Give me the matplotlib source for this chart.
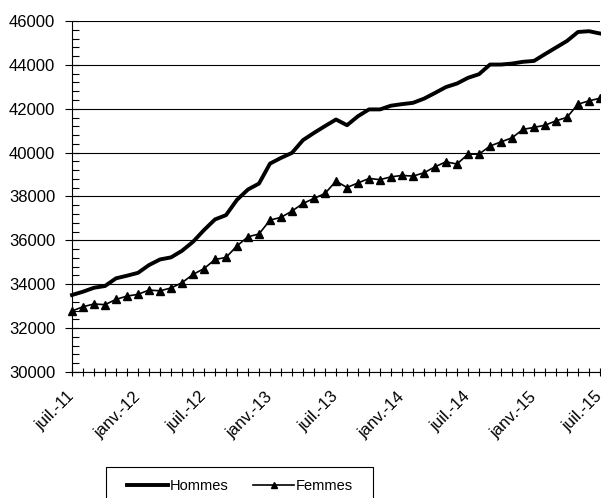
import matplotlib
matplotlib.use("Agg")
import matplotlib.pyplot as plt
from matplotlib.ticker import MultipleLocator
from matplotlib.patches import Rectangle

# données mensuelles, juil.-11 -> juil.-15
hommes = [33510, 33660, 33840, 33920, 34270, 34390, 34520, 34875, 35130, 35225,
          35525, 35935, 36470, 36955, 37150, 37850, 38320, 38590, 39500, 39760,
          39990, 40570, 40900, 41210, 41510, 41250, 41660, 41970, 41970, 42140,
          42210, 42270, 42460, 42720, 42990, 43150, 43410, 43575, 44015, 44015,
          44060, 44140, 44180, 44490, 44790, 45090, 45500, 45535, 45430]
femmes = [32780, 32975, 33100, 33070, 33310, 33460, 33540, 33735, 33700, 33830,
          34070, 34450, 34710, 35130, 35220, 35750, 36165, 36290, 36925, 37050,
          37335, 37685, 37910, 38140, 38700, 38410, 38620, 38820, 38770, 38895,
          38960, 38930, 39080, 39355, 39580, 39480, 39930, 39930, 40300, 40490,
          40675, 41060, 41150, 41250, 41450, 41610, 42210, 42360, 42480]
tick_labels = ["juil.-11", "janv.-12", "juil.-12", "janv.-13", "juil.-13",
               "janv.-14", "juil.-14", "janv.-15", "juil.-15"]

plt.rcParams["font.family"] = ["Liberation Sans", "DejaVu Sans"]

fig = plt.figure(figsize=(6.01, 4.98), dpi=100)
ax = fig.add_axes([72 / 601, 1 - 372 / 498, 528 / 601, 351 / 498])

x = list(range(len(hommes)))
ax.plot(x, hommes, color="black", lw=2.8, label="Hommes", clip_on=False,
        solid_joinstyle="round", zorder=3)
ax.plot(x, femmes, color="black", lw=1.2, marker="^", ms=6, label="Femmes",
        clip_on=False, zorder=3)

ax.set_xlim(0, 48)
ax.set_ylim(30000, 46000)
ax.yaxis.set_major_locator(MultipleLocator(2000))
ax.yaxis.set_minor_locator(MultipleLocator(400))
ax.grid(axis="y", which="major", color="black", lw=0.8)
ax.set_axisbelow(True)

ax.set_xticks(range(0, 49, 6))
ax.set_xticklabels(tick_labels, rotation=45, ha="right", va="center",
                   rotation_mode="anchor", fontsize=12)
ax.set_xticks(x, minor=True)
ax.tick_params(axis="x", which="both", direction="inout", length=6, width=0.8, pad=13)
ax.tick_params(axis="y", which="major", direction="inout", length=10, width=0.8,
               labelsize=12, pad=7)
ax.tick_params(axis="y", which="minor", direction="in", length=5, width=0.8)

for s in ["top", "right"]:
    ax.spines[s].set_visible(False)
ax.spines["left"].set_linewidth(0.8)
ax.spines["bottom"].set_linewidth(0.8)

# cadre de la légende (coupé en bas comme dans l'original)
fig.patches.append(Rectangle((106 / 601, 1 - 510 / 498), 267 / 601, 43 / 498,
                             transform=fig.transFigure, fill=False,
                             edgecolor="black", lw=0.8))
fig.legend(loc="center", bbox_to_anchor=(240 / 601, 1 - 486 / 498),
           ncol=2, frameon=False, fontsize=10.5, handlelength=2.8,
           columnspacing=1.7, handletextpad=0.1, markerscale=0.8)

fig.savefig("out.png", dpi=100)
